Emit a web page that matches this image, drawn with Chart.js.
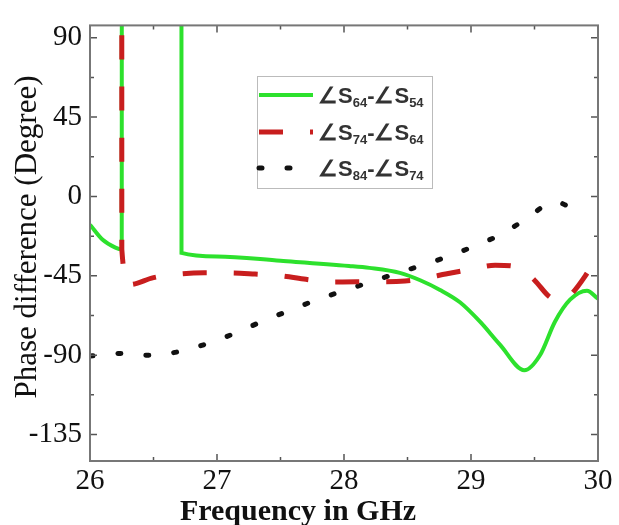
<!DOCTYPE html>
<html>
<head>
<meta charset="utf-8">
<script src="https://cdn.jsdelivr.net/npm/chart.js@4"></script>
<style>
  body { margin: 0; background: #fff; }
</style>
</head>
<body>
<canvas id="phaseChart" width="619" height="525"></canvas>
<script>
// frequency (GHz) / phase (degree)
var freqGreen = [26.0, 26.1, 26.2, 26.25, 26.2505, 26.72, 26.7205, 27.0, 27.5, 28.04, 28.2, 28.44, 28.6, 28.756, 28.913, 29.071, 29.228, 29.42, 29.543, 29.661, 29.78, 29.913, 30.0];
var phaseGreen = [-16, -24.6, -29, -30, 160, 160, -32, -34, -36.5, -39.4, -40.5, -43.3, -47.5, -53, -60, -71, -84, -98.5, -90, -71, -58.5, -53.4, -58];

var freqRed = [26.0, 26.25, 26.2505, 26.31, 26.5, 26.7, 26.9, 27.1, 27.3, 27.5, 27.7, 27.88, 28.1, 28.27, 28.48, 28.66, 28.8, 28.98, 29.19, 29.37, 29.5, 29.62, 29.7, 29.78, 29.9, 30.0];
var phaseRed = [160, 160, -30, -50, -46, -44, -43.3, -43.3, -44, -45, -47, -48.5, -48.4, -48.4, -48, -46, -44, -41.6, -39, -40, -47.5, -57, -59, -56, -45, -33];

var freqBlack = [26.0, 26.25, 26.46, 26.7, 26.92, 27.14, 27.35, 27.57, 27.79, 28.0, 28.23, 28.44, 28.66, 28.82, 29.03, 29.25, 29.44, 29.66, 29.88];
var phaseBlack = [-90.5, -89, -90, -88, -83.5, -77.6, -71, -64.7, -58.5, -53.4, -48, -43, -38, -34, -28, -21, -12.4, -3, -11];

var yTicks = [-135, -90, -45, 0, 45, 90];
var xTicks = [26, 27, 28, 29, 30];

// legend text split into [main, subscript] pieces
var legendParts = [
  [['∠S', '64'], ['-∠S', '54']],
  [['∠S', '74'], ['-∠S', '64']],
  [['∠S', '84'], ['-∠S', '74']]
];

function toPoints(xs, ys) {
  var pts = [];
  for (var i = 0; i < xs.length; i++) {
    pts.push({ x: xs[i], y: ys[i] });
  }
  return pts;
}

const serif = '"Liberation Serif", "Times New Roman", serif';

const frameAndLegend = {
  id: 'frameAndLegend',
  afterDatasetsDraw(chart) {
    const ctx = chart.ctx;
    const a = chart.chartArea;
    const xs = chart.scales.x, ys = chart.scales.y;
    ctx.save();

    // inward ticks on all four sides
    ctx.strokeStyle = '#555';
    ctx.lineWidth = 1.5;
    ctx.beginPath();
    for (var v = 26; v <= 30.001; v += 0.5) {
      var px = xs.getPixelForValue(v);
      var len = (Math.abs(v - Math.round(v)) < 0.01) ? 7 : 4;
      ctx.moveTo(px, a.bottom); ctx.lineTo(px, a.bottom - len);
      ctx.moveTo(px, a.top); ctx.lineTo(px, a.top + len);
    }
    for (var d = -135; d <= 90; d += 22.5) {
      var py = ys.getPixelForValue(d);
      var l2 = (d % 45 === 0) ? 7 : 4;
      ctx.moveTo(a.left, py); ctx.lineTo(a.left + l2, py);
      ctx.moveTo(a.right, py); ctx.lineTo(a.right - l2, py);
    }
    ctx.stroke();

    // box
    ctx.strokeStyle = '#777';
    ctx.lineWidth = 2;
    ctx.strokeRect(a.left, a.top, a.right - a.left, a.bottom - a.top);

    // legend
    const lx = 257, ly = 76, lw = 175, lh = 112;
    ctx.fillStyle = '#fff';
    ctx.fillRect(lx, ly, lw, lh);
    ctx.strokeStyle = '#bbb';
    ctx.lineWidth = 1;
    ctx.strokeRect(lx + 0.5, ly + 0.5, lw, lh);

    var rowY = [95, 132, 168];
    chart.data.datasets.forEach(function (ds, i) {
      ctx.save();
      ctx.strokeStyle = ds.borderColor;
      ctx.lineWidth = ds.borderWidth;
      ctx.lineCap = ds.borderCapStyle || 'butt';
      ctx.setLineDash(ds.borderDash || []);
      ctx.beginPath();
      ctx.moveTo(lx + 2, rowY[i]);
      ctx.lineTo(lx + 56, rowY[i]);
      ctx.stroke();
      ctx.restore();

      var tx = lx + 61;
      ctx.fillStyle = '#333';
      ctx.textBaseline = 'alphabetic';
      legendParts[i].forEach(function (p) {
        ctx.font = 'bold 22px "Liberation Sans", Arial, sans-serif';
        ctx.fillText(p[0], tx, rowY[i] + 8);
        tx += ctx.measureText(p[0]).width;
        ctx.font = 'bold 13px "Liberation Sans", Arial, sans-serif';
        ctx.fillText(p[1], tx, rowY[i] + 12);
        tx += ctx.measureText(p[1]).width;
      });
    });

    // axis titles (both sit a little off the plot centre in the original)
    ctx.fillStyle = '#111';
    ctx.font = 'bold 30px ' + serif;
    ctx.textAlign = 'center';
    ctx.textBaseline = 'alphabetic';
    ctx.fillText('Frequency in GHz', 298, 520);

    ctx.translate(28, 237);
    ctx.rotate(-Math.PI / 2);
    ctx.font = '31px ' + serif;
    ctx.textBaseline = 'middle';
    ctx.fillText('Phase difference (Degree)', 0, 0);
    ctx.restore();
  }
};

const config = {
  type: 'line',
  data: {
    datasets: [{
      label: '∠S₆₄-∠S₅₄',
      data: toPoints(freqGreen, phaseGreen),
      borderColor: 'rgb(45, 225, 45)',
      borderWidth: 4,
      pointRadius: 0,
      order: 2,
      cubicInterpolationMode: 'monotone'
    }, {
      label: '∠S₇₄-∠S₆₄',
      data: toPoints(freqRed, phaseRed),
      borderColor: 'rgb(200, 30, 30)',
      borderWidth: 5,
      borderDash: [24, 27],
      pointRadius: 0,
      order: 0,
      cubicInterpolationMode: 'monotone'
    }, {
      label: '∠S₈₄-∠S₇₄',
      data: toPoints(freqBlack, phaseBlack),
      borderColor: '#111',
      borderWidth: 5,
      borderDash: [3, 25],
      borderCapStyle: 'round',
      pointRadius: 0,
      order: 1,
      cubicInterpolationMode: 'monotone'
    }]
  },
  options: {
    responsive: false,
    animation: false,
    layout: { padding: { top: 20, right: 21, left: 0, bottom: 0 } },
    plugins: {
      legend: { display: false },
      tooltip: { enabled: false }
    },
    scales: {
      x: {
        type: 'linear',
        min: 26,
        max: 30,
        afterBuildTicks: function (s) { s.ticks = xTicks.map(v => ({ value: v })); },
        afterFit: function (s) { s.height = 64; },
        grid: { display: false, drawTicks: false },
        border: { display: false },
        ticks: { color: '#111', font: { family: serif, size: 29 }, padding: 3, maxRotation: 0 },
        title: { display: false }
      },
      y: {
        min: -150,
        max: 97,
        afterBuildTicks: function (s) { s.ticks = yTicks.map(v => ({ value: v })); },
        afterFit: function (s) { s.width = 90; },
        grid: { display: false, drawTicks: false },
        border: { display: false },
        ticks: { color: '#111', font: { family: serif, size: 29 }, padding: 8 },
        title: { display: false }
      }
    }
  },
  plugins: [frameAndLegend]
};

var myChart = new Chart(document.getElementById('phaseChart'), config);
</script>
</body>
</html>
